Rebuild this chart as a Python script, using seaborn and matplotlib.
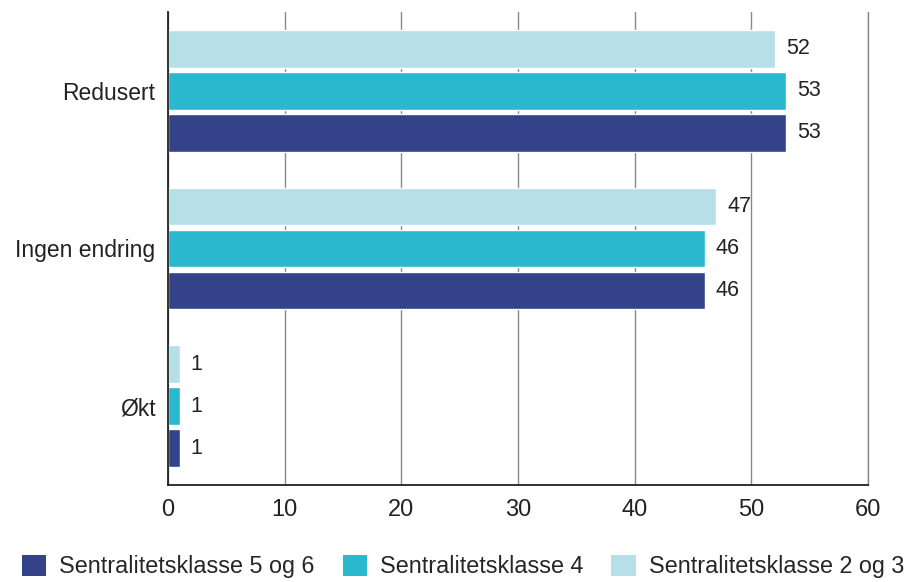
import matplotlib
matplotlib.use("Agg")
import matplotlib.pyplot as plt
import seaborn as sns
import pandas as pd
from matplotlib.patches import Patch

categories = ["Redusert", "Ingen endring", "Økt"]
series_names = ["Sentralitetsklasse 2 og 3", "Sentralitetsklasse 4", "Sentralitetsklasse 5 og 6"]
vals_2og3 = [52, 47, 1]
vals_4 = [53, 46, 1]
vals_5og6 = [53, 46, 1]
x_ticks = [0, 10, 20, 30, 40, 50, 60]

colors = {"Sentralitetsklasse 2 og 3": "#B7DFE8",
          "Sentralitetsklasse 4": "#29B8CE",
          "Sentralitetsklasse 5 og 6": "#344389"}

rows = []
for name, vals in zip(series_names, [vals_2og3, vals_4, vals_5og6]):
    for c, v in zip(categories, vals):
        rows.append({"cat": c, "series": name, "value": v})
df = pd.DataFrame(rows)

sns.set_style("white")
plt.rcParams["font.family"] = ["Liberation Sans", "DejaVu Sans"]

fig = plt.figure(figsize=(9.13, 5.82), dpi=100)
ax = fig.add_axes([168/913, 1-485/582, 700/913, 473/582])

sns.barplot(data=df, y="cat", x="value", hue="series", order=categories,
            hue_order=series_names, palette=colors, orient="h",
            width=0.8, gap=0.1, ax=ax, legend=False, errorbar=None,
            saturation=1)

for cont in ax.containers:
    ax.bar_label(cont, padding=8, fontsize=15.5, color="#222222")

ax.set_xlim(0, 60)
ax.set_ylim(2.5, -0.5)
ax.set_xticks(x_ticks)
ax.set_xticklabels([str(t) for t in x_ticks])
ax.set_xlabel("")
ax.set_ylabel("")
ax.tick_params(axis="x", labelsize=17, length=0, pad=10, colors="#222222")
ax.tick_params(axis="y", labelsize=16.5, length=0, pad=9, colors="#222222")
ax.grid(axis="x", color="#888888", linewidth=1)
ax.grid(axis="y", visible=False)
ax.set_axisbelow(True)
ax.spines["top"].set_visible(False)
ax.spines["right"].set_color("#888888")
ax.spines["right"].set_linewidth(1)
ax.spines["left"].set_color("#222222")
ax.spines["left"].set_linewidth(1.3)
ax.spines["bottom"].set_color("#222222")
ax.spines["bottom"].set_linewidth(1.3)

legend_order = ["Sentralitetsklasse 5 og 6", "Sentralitetsklasse 4", "Sentralitetsklasse 2 og 3"]
handles = [Patch(facecolor=colors[n], edgecolor="none") for n in legend_order]
fig.legend(handles, legend_order, loc="lower left", bbox_to_anchor=(0.001, -0.03),
           ncol=3, frameon=False, fontsize=16.8, handlelength=1.05, handleheight=1.0,
           columnspacing=1.2, handletextpad=0.55)

fig.savefig("out.png", dpi=100)
